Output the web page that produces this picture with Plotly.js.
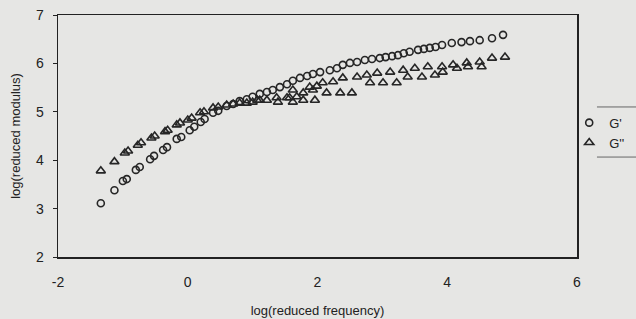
<!DOCTYPE html>
<html>
<head>
<meta charset="utf-8">
<script src="https://cdn.plot.ly/plotly-3.0.1.min.js"></script>
<style>html,body{margin:0;padding:0;background:#e6e6e4;}#chart{width:636px;height:319px;}</style>
</head>
<body>
<div id="chart"></div>
<script>
// G' (storage modulus) - circles
const gpX = [-1.34,-1.13,-1.00,-0.94,-0.80,-0.74,-0.58,-0.52,-0.38,-0.32,-0.17,-0.10,0.03,0.10,0.20,0.26,0.39,0.47,0.60,0.70,0.80,0.91,1.00,1.11,1.22,1.31,1.42,1.53,1.62,1.73,1.84,1.93,2.04,2.19,2.30,2.39,2.50,2.61,2.73,2.84,2.96,3.05,3.15,3.24,3.33,3.42,3.55,3.64,3.73,3.82,3.92,4.07,4.22,4.35,4.50,4.69,4.86];
const gpY = [3.11,3.38,3.57,3.61,3.80,3.86,4.02,4.09,4.21,4.27,4.44,4.48,4.62,4.69,4.79,4.85,4.98,5.02,5.12,5.16,5.22,5.26,5.31,5.37,5.41,5.45,5.51,5.57,5.64,5.70,5.74,5.78,5.82,5.86,5.90,5.97,6.01,6.03,6.07,6.09,6.11,6.13,6.15,6.17,6.21,6.24,6.28,6.30,6.32,6.34,6.38,6.42,6.44,6.46,6.48,6.52,6.59];
// G'' (loss modulus) - triangles
const gppX = [-1.34,-1.13,-0.97,-0.92,-0.77,-0.72,-0.56,-0.51,-0.35,-0.31,-0.17,-0.12,0.00,0.06,0.19,0.25,0.39,0.47,0.60,0.70,0.80,0.91,1.00,1.11,1.22,1.39,1.53,1.68,1.78,1.88,1.99,2.08,2.24,2.39,2.61,2.76,2.92,3.12,3.32,3.50,3.70,3.92,4.09,4.30,4.50,4.69,4.89,
  1.07,1.37,1.57,1.62,1.78,1.96,2.14,2.35,2.53,2.81,3.01,3.22,3.39,3.61,3.81,3.93,4.15,4.32,4.53,1.62,1.93];
const gppY = [3.78,3.97,4.15,4.19,4.31,4.36,4.46,4.50,4.59,4.62,4.73,4.77,4.83,4.87,4.98,5.00,5.08,5.10,5.14,5.16,5.18,5.18,5.20,5.24,5.24,5.20,5.29,5.31,5.39,5.51,5.53,5.60,5.62,5.70,5.72,5.76,5.80,5.82,5.86,5.90,5.93,5.93,5.97,6.01,6.03,6.11,6.13,
  5.24,5.29,5.29,5.20,5.24,5.24,5.39,5.39,5.39,5.60,5.60,5.60,5.72,5.72,5.76,5.82,5.90,5.93,5.93,5.45,5.45];
const xTicks = [-2,0,2,4,6];
const yTicks = [2,3,4,5,6,7];
const seriesNames = ["G'", "G''"];

const ink = '#262626';
const traces = [
  {x: gpX, y: gpY, name: seriesNames[0], type: 'scatter', mode: 'markers',
   marker: {symbol: 'circle-open', size: 7, color: ink, line: {width: 1.6, color: ink}}},
  {x: gppX, y: gppY, name: seriesNames[1], type: 'scatter', mode: 'markers',
   marker: {symbol: 'triangle-up-open', size: 8, color: ink, line: {width: 1.6, color: ink}}}
];
const font = {family: '"Liberation Sans", Arial, sans-serif', color: '#222'};
const layout = {
  width: 636, height: 319,
  paper_bgcolor: '#e6e6e4', plot_bgcolor: '#e6e6e4',
  margin: {l: 58, r: 59, t: 15, b: 62, autoexpand: false},
  font: font,
  showlegend: true,
  legend: {x: 0.985, xanchor: 'left', y: 0.617, yanchor: 'top', bgcolor: 'rgba(0,0,0,0)',
           font: {family: font.family, size: 13, color: '#222'}, itemwidth: 30, tracegroupgap: 0},
  xaxis: {range: [-2, 6], tickvals: xTicks, ticktext: xTicks.map(String), ticks: '',
          showgrid: false, zeroline: false, showline: true, mirror: true, linecolor: '#222', linewidth: 1.5,
          tickfont: {size: 14, color: '#222'}, ticklabelstandoff: 12,
          title: {text: 'log(reduced frequency)', font: {size: 13, color: '#222'}, standoff: 16}},
  yaxis: {range: [2, 7], tickvals: yTicks, ticktext: yTicks.map(String), ticks: 'outside', ticklen: 4, tickcolor: '#222',
          showgrid: false, zeroline: false, showline: true, mirror: true, linecolor: '#222', linewidth: 1.5,
          tickfont: {size: 14, color: '#222'}, ticklabelstandoff: 6,
          title: {text: 'log(reduced modulus)', font: {size: 13, color: '#222'}, standoff: 12}},
  shapes: [
    {type: 'line', xref: 'paper', yref: 'paper', x0: 1.0385, x1: 1.13, y0: 0.62, y1: 0.62, line: {color: '#666', width: 1}},
    {type: 'line', xref: 'paper', yref: 'paper', x0: 1.0385, x1: 1.13, y0: 0.413, y1: 0.413, line: {color: '#666', width: 1}}
  ]
};
Plotly.newPlot('chart', traces, layout, {staticPlot: true, displayModeBar: false});
</script>
</body>
</html>
